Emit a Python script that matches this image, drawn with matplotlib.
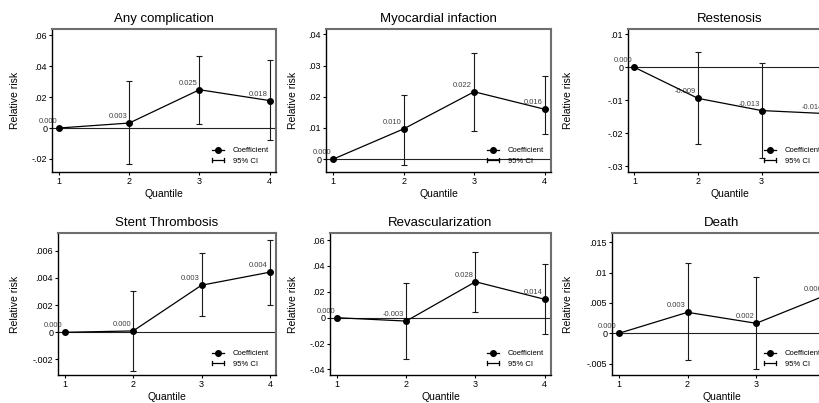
import numpy as np
import matplotlib
matplotlib.use("Agg")
import matplotlib.pyplot as plt
from matplotlib.legend_handler import HandlerBase
from matplotlib.lines import Line2D

plt.rcParams['font.family'] = ['Liberation Sans', 'DejaVu Sans']

quantiles = [1, 2, 3, 4]
titles = ["Any complication", "Myocardial infaction", "Restenosis",
          "Stent Thrombosis", "Revascularization", "Death"]

# coefficients per quantile (quantile 1 is the reference)
coef_any = [0.0, 0.0032, 0.0247, 0.0177]
coef_mi = [0.0, 0.0097, 0.0216, 0.0160]
coef_rest = [0.0, -0.0094, -0.0131, -0.0140]
coef_st = [0.0, 0.0001, 0.00346, 0.00442]
coef_revasc = [0.0, -0.0026, 0.0278, 0.0142]
coef_death = [0.0, 0.00346, 0.00165, 0.0062]

# 95% CI bounds for quantiles 2-4
lo_any = [-0.0232, 0.0024, -0.0079]
hi_any = [0.0303, 0.0466, 0.0437]
lo_mi = [-0.0017, 0.0091, 0.0081]
hi_mi = [0.0206, 0.0341, 0.0267]
lo_rest = [-0.0232, -0.0275, -0.0300]
hi_rest = [0.0045, 0.0012, 0.0020]
lo_st = [-0.00281, 0.00118, 0.00202]
hi_st = [0.00304, 0.00583, 0.00681]
lo_revasc = [-0.0317, 0.0044, -0.0126]
hi_revasc = [0.0266, 0.0510, 0.0413]
lo_death = [-0.0044, -0.0059, -0.0035]
hi_death = [0.01154, 0.0092, 0.0158]

yticks = [
    [-0.02, 0, 0.02, 0.04, 0.06],
    [0, 0.01, 0.02, 0.03, 0.04],
    [-0.03, -0.02, -0.01, 0, 0.01],
    [-0.002, 0, 0.002, 0.004, 0.006],
    [-0.04, -0.02, 0, 0.02, 0.04, 0.06],
    [-0.005, 0, 0.005, 0.01, 0.015],
]
ylims = [(-0.0284, 0.0639), (-0.0041, 0.0417), (-0.0317, 0.0116),
         (-0.00314, 0.0073), (-0.0443, 0.0655), (-0.00687, 0.01653)]

coefs = [coef_any, coef_mi, coef_rest, coef_st, coef_revasc, coef_death]
lows = [lo_any, lo_mi, lo_rest, lo_st, lo_revasc, lo_death]
highs = [hi_any, hi_mi, hi_rest, hi_st, hi_revasc, hi_death]

# panel boxes in pixels: left, top, right, bottom (third column runs past the edge)
W, H = 820, 403
boxes = [(52, 29, 276, 172), (326, 29, 551, 172), (628, 29, 831, 172),
         (58, 233, 276, 375), (330, 233, 551, 375), (612, 233, 831, 375)]
ylabel_x = [15, 293, 568, 15, 293, 568]


class CIHandler(HandlerBase):
    def create_artists(self, legend, orig_handle, xdescent, ydescent,
                       width, height, fontsize, trans):
        y = height / 2 - ydescent
        x0, x1 = -xdescent, width - xdescent
        cap = height * 0.35
        arts = [Line2D([x0, x1], [y, y], color='black', lw=0.9),
                Line2D([x0, x0], [y - cap, y + cap], color='black', lw=0.9),
                Line2D([x1, x1], [y - cap, y + cap], color='black', lw=0.9)]
        for a in arts:
            a.set_transform(trans)
        return arts


def fmt_tick(v):
    if v == 0:
        return "0"
    s = f"{v:g}"
    return s.replace("0.", ".")


fig = plt.figure(figsize=(W / 100, H / 100), dpi=100)
fig.patch.set_facecolor('white')

for i in range(6):
    l, t, r, b = boxes[i]
    ax = fig.add_axes([l / W, 1 - b / H, (r - l) / W, (b - t) / H])
    wpx, hpx = r - l, b - t

    ax.axhline(0, color='#222222', lw=0.8, zorder=1)
    ax.errorbar(quantiles[1:], coefs[i][1:],
                yerr=[np.array(coefs[i][1:]) - np.array(lows[i]),
                      np.array(highs[i]) - np.array(coefs[i][1:])],
                fmt='none', ecolor='#1a1a1a', elinewidth=0.8,
                capsize=2.3, capthick=0.8, zorder=2)
    ax.plot(quantiles, coefs[i], color='black', lw=0.9, marker='o',
            ms=4, zorder=3, label='Coefficient')

    for q, v in zip(quantiles, coefs[i]):
        ax.annotate(f"{v:.3f}", (q, v), xytext=(-2, 3),
                    textcoords='offset pixels', ha='right', va='bottom',
                    fontsize=5.5, color='#404040', zorder=2.5)

    ax.set_xlim(0.9, 4.09)
    ax.set_ylim(*ylims[i])
    ax.set_xticks(quantiles)
    ax.set_yticks(yticks[i])
    ax.set_yticklabels([fmt_tick(v) for v in yticks[i]])
    ax.tick_params(axis='both', labelsize=6.5, length=2.5, width=0.8,
                   pad=1, direction='out')

    for side in ('left', 'bottom'):
        ax.spines[side].set_color('black')
        ax.spines[side].set_linewidth(1.0)
    for side in ('top', 'right'):
        ax.spines[side].set_color('#6e6e6e')
        ax.spines[side].set_linewidth(1.5)

    ax.set_title(titles[i], fontsize=9.5, pad=5)
    ax.set_ylabel("Relative risk", fontsize=7.5)
    ax.yaxis.label.set_verticalalignment('center')
    ax.yaxis.set_label_coords((ylabel_x[i] - l) / wpx, 0.5)
    ax.set_xlabel("Quantile", fontsize=7.5)
    ax.xaxis.label.set_verticalalignment('center')
    ax.xaxis.set_label_coords(0.5, -22 / hpx)

    # legend sits a fixed distance in from the right edge of the frame
    leg_off = 64 if r <= W else 67
    ci_handle = Line2D([], [])
    ax.legend([ax.lines[-1], ci_handle], ['Coefficient', '95% CI'],
              handler_map={ci_handle: CIHandler()},
              loc='lower left', bbox_to_anchor=(1 - leg_off / wpx, 7 / hpx),
              frameon=False, fontsize=5.5, borderpad=0,
              borderaxespad=0, handlelength=1.6, handletextpad=1.1,
              labelspacing=0.45)

fig.savefig("out.png", dpi=100)
